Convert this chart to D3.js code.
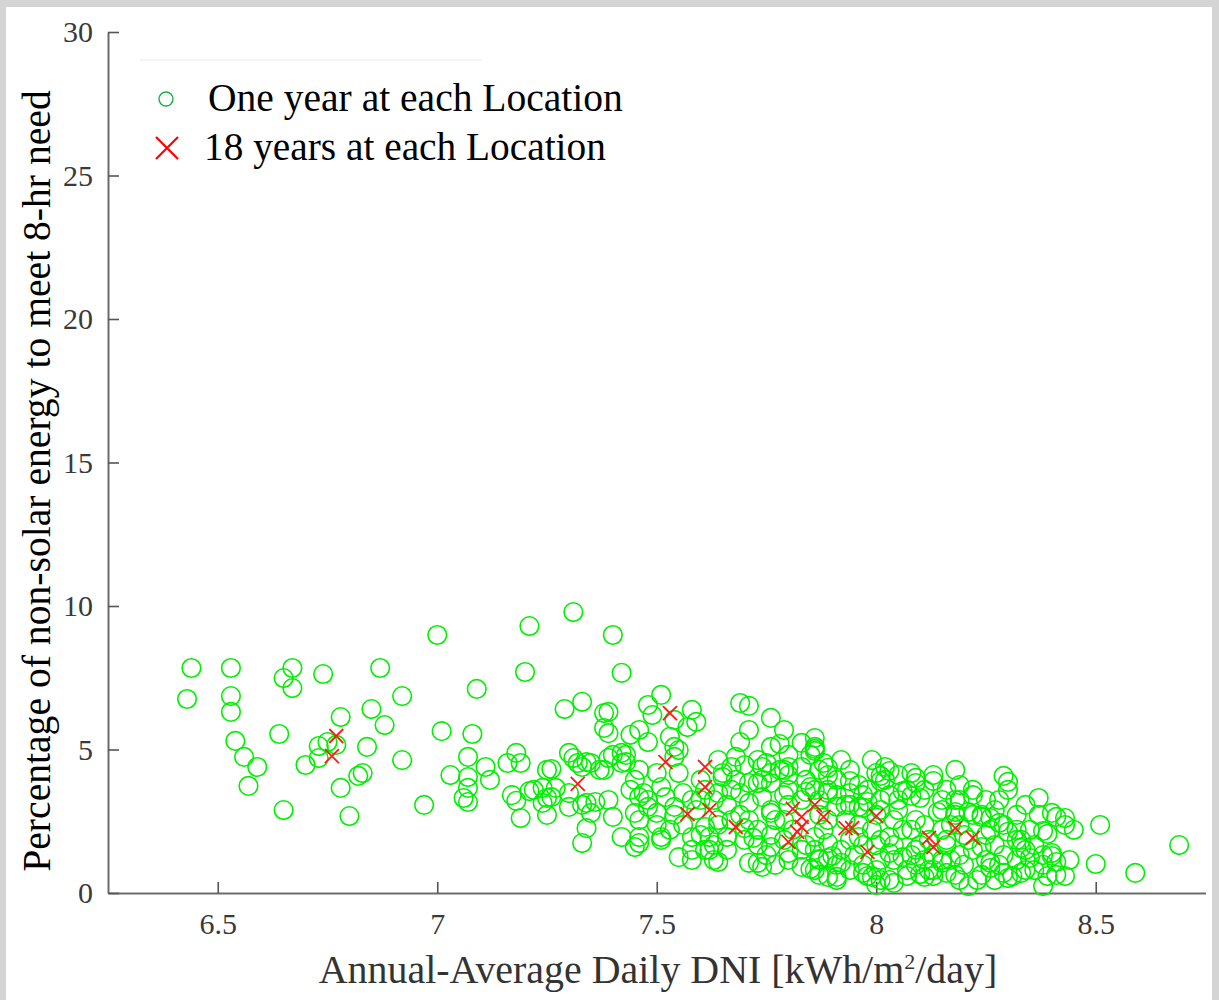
<!DOCTYPE html>
<html><head><meta charset="utf-8">
<script src="https://cdn.jsdelivr.net/npm/d3@7"></script>
<style>body{margin:0;background:#d4d4d4;} svg{display:block}</style>
</head><body><svg id="c" width="1219" height="1000"></svg>
<script>
const xTicks = [6.5, 7, 7.5, 8, 8.5];
const xTickLabels = ["6.5", "7", "7.5", "8", "8.5"];
const yTicks = [0, 5, 10, 15, 20, 25, 30];
const yTickLabels = ["0", "5", "10", "15", "20", "25", "30"];
const legendLabels = ["One year at each Location", "18 years at each Location"];
const yLabel = "Percentage of non-solar energy to meet 8-hr need";

// One year at each location: [DNI, percentage]
const oneYear = [
[6.44,7.84],[6.43,6.76],[6.53,7.84],[6.53,6.86],[6.53,6.31],[6.54,5.30],[6.56,4.74],[6.59,4.39],[6.57,3.73],
[6.67,7.84],[6.65,7.49],[6.67,7.14],[6.74,7.63],[6.64,5.54],[6.78,6.13],[6.85,6.41],[6.87,7.84],[6.92,6.86],
[6.88,5.85],[7.00,8.99],[7.09,7.11],[7.01,5.64],[7.08,5.54],[7.21,9.30],[7.20,7.70],[6.73,5.12],[6.75,5.26],
[6.77,5.16],[6.73,4.70],[6.70,4.46],[6.84,5.09],[6.92,4.63],[6.83,4.18],[6.82,4.08],[6.78,3.66],[6.80,2.68],
[6.65,2.89],[6.97,3.07],[7.03,4.11],[7.07,4.74],[7.07,4.04],[7.07,3.66],[7.06,3.31],[7.07,3.17],[7.11,4.39],
[7.12,3.94],[7.16,4.53],[7.18,4.88],[7.19,4.53],[7.17,3.41],[7.18,3.21],[7.19,2.61],[7.21,3.55],[7.24,3.66],
[7.25,3.31],[7.25,2.72],[7.25,4.29],[7.31,9.79],[7.40,8.99],[7.42,7.67],[7.29,6.41],[7.33,6.66],[7.38,6.27],
[7.39,6.31],[7.38,5.75],[7.39,5.57],[7.48,6.55],[7.49,6.20],[7.51,6.90],[7.58,6.38],[7.59,5.96],[7.57,5.78],
[7.44,5.51],[7.48,5.26],[7.53,5.44],[7.54,5.09],[7.69,6.62],[7.71,6.52],[7.76,6.10],[7.79,5.68],[7.71,5.68],
[7.69,5.26],[7.76,5.09],[7.83,5.23],[7.86,5.40],[7.86,5.09],[7.30,4.88],[7.26,4.32],[7.32,4.53],[7.34,4.56],
[7.35,4.53],[7.38,4.29],[7.42,4.88],[7.43,4.56],[7.39,4.70],[7.27,3.66],[7.30,3.48],[7.30,3.00],[7.34,3.14],
[7.36,3.17],[7.39,3.24],[7.34,2.26],[7.33,1.74],[7.40,2.65],[7.42,1.95],[7.45,3.94],[7.47,3.48],[7.45,2.79],
[7.46,1.95],[7.46,1.74],[7.51,1.85],[7.48,3.24],[7.51,3.69],[7.50,2.79],[7.55,4.18],[7.56,3.48],[7.55,1.25],
[7.58,1.15],[7.62,1.50],[7.64,1.08],[7.61,2.30],[7.64,2.54],[7.59,2.89],[7.67,4.39],[7.68,3.94],[7.65,4.04],
[7.69,3.48],[7.71,3.83],[7.74,4.39],[7.76,4.18],[7.79,4.29],[7.83,4.39],[7.87,4.29],[7.85,3.69],[7.89,3.48],
[7.71,1.05],[7.74,0.91],[7.83,0.91],[7.86,0.80],[7.91,0.56],[7.76,2.79],[7.79,2.54],[7.71,2.54],[7.89,2.54],
[7.78,5.19],[7.86,5.02],[7.68,4.74],[7.73,4.63],[7.75,4.53],[7.80,4.39],[7.78,4.29],[7.88,4.53],[7.89,4.36],
[7.94,4.29],[8.00,4.18],[8.02,4.39],[8.05,4.11],[8.08,4.18],[8.13,4.11],[7.65,4.18],[7.86,4.95],[7.89,4.11],
[7.94,3.90],[8.01,4.08],[8.03,4.25],[8.01,3.90],[8.09,4.01],[8.09,3.83],[8.13,3.90],[8.06,3.55],[8.08,3.38],
[8.10,3.31],[7.98,3.17],[7.97,2.96],[7.93,3.07],[8.14,2.82],[8.18,2.72],[8.22,2.72],[8.24,2.72],[8.26,2.61],
[8.29,2.37],[8.32,2.20],[8.32,1.85],[8.34,1.50],[8.37,3.31],[8.41,2.65],[8.43,2.61],[8.43,2.37],[8.39,2.06],
[8.51,2.37],[8.50,1.01],[8.59,0.70],[8.69,1.67],[8.40,1.29],[8.41,1.08],[8.43,0.59],[8.39,0.59],[8.38,0.24],
[8.33,0.70],[8.31,0.59],[8.29,0.70],[8.26,0.87],[8.23,0.45],[8.21,0.24],[8.19,0.45],[8.13,0.59],[8.10,0.66],
[8.07,0.59],[8.04,0.35],[8.01,0.45],[7.98,0.59],[7.91,0.45],[7.85,0.84],[7.87,1.18],[7.90,1.29],[7.61,1.50],
[7.63,1.15],[7.73,1.05],[7.89,0.56],[7.97,0.70],[7.99,0.56],[8.00,0.80],[8.03,0.45],[8.00,0.28],[8.11,0.56],
[8.12,0.80],[8.15,1.05],[8.07,3.59],[8.02,3.94],[7.94,3.48],[7.89,3.59],[7.86,3.59],[7.80,3.59],[7.76,3.83],
[7.73,3.83],[7.67,3.59],[7.64,3.48],[7.60,3.24],[7.71,3.14],[7.76,2.89],[7.77,2.54],[7.73,2.20],[7.70,1.85],
[7.76,1.60],[7.80,1.39],[7.86,1.95],[7.89,1.74],[7.92,1.50],[7.96,1.95],[7.99,2.20],[8.03,1.95],[8.06,2.20],
[8.09,2.54],[8.05,2.89],[8.01,3.24],[7.96,3.00],[7.91,3.00],[8.09,1.50],[8.06,1.25],[8.03,1.39],[7.92,1.05],
[7.87,1.15],[7.66,1.95],[7.62,1.95],[7.58,1.50],[7.22,3.59],[7.26,3.34],[7.24,3.14],[7.33,3.07],[7.35,2.79],
[7.45,1.60],[7.44,3.59],[7.46,3.34],[7.48,3.00],[7.46,2.54],[7.52,3.34],[7.54,3.00],[7.51,1.95],[7.58,1.95],
[7.33,4.39],[7.37,4.29],[7.42,4.53],[7.46,4.29],[7.50,4.18],[7.46,5.68],[7.54,6.03],[7.55,4.98],[7.54,4.74],
[7.31,4.70],[7.40,4.81],[7.43,4.81],[8.05,3.24],[8.11,2.37],[8.15,2.20],[8.16,1.67],[8.19,1.32],[8.20,0.98],
[8.22,1.50],[8.25,2.02],[8.27,1.67],[8.29,1.32],[8.28,3.24],[8.30,3.59],[8.16,3.59],[8.19,3.24],[8.22,3.41],
[8.29,4.08],[8.30,3.87],[8.16,0.70],[8.15,1.15],[8.24,1.60],[8.28,2.44],[8.30,2.13],[8.33,1.57],[8.36,0.80],
[8.30,0.52],[8.26,1.05],[8.24,2.65],[8.21,2.82],[8.18,2.82],[8.15,2.89],[8.40,2.79],[8.38,2.16],[8.38,1.32],
[8.40,1.39],[7.83,3.24],[7.87,2.72],[7.93,2.54],[7.96,2.37],[8.00,2.72],[7.81,2.20],[7.84,1.67],[7.88,2.20],
[7.95,1.32],[8.00,1.67],[8.12,1.85],[8.09,0.98],[7.73,1.67],[7.66,1.50],[7.64,2.37],[7.69,2.72],[7.80,3.07],
[7.74,3.34],[7.98,3.59],[8.03,3.41],[8.17,2.37],[8.20,2.02],[8.19,3.76],[8.18,4.29],
[7.79,3.41],[7.84,3.52],[7.87,3.24],[7.91,3.41],[7.94,3.07],[7.97,3.41],[8.01,2.89],[8.04,2.54],[8.08,2.20],
[8.10,1.67],[8.07,0.80],[8.04,1.15],[8.01,1.15],[7.97,0.98],[7.94,0.80],[7.91,0.98],[7.87,0.63],[7.80,1.15],
[7.77,0.98],[7.75,1.32],[7.76,2.02],[7.79,1.85],[7.83,1.50],[7.86,1.50],[7.89,1.22],[7.94,1.85],[7.97,1.67],
[8.01,1.85],[8.04,1.67],[8.08,1.32],[8.11,1.15],[8.13,0.80],[8.17,1.15],[8.18,0.63],[8.24,0.63],[8.27,0.45],
[8.25,1.15],[8.28,0.98],[8.32,1.15],[8.34,0.80],[8.35,1.22],[8.33,1.85],[8.35,2.20],[8.26,2.20],[8.21,1.85],
[8.19,2.37],[8.16,1.85],[8.13,1.32],[8.18,3.24],[8.15,3.24],[8.11,3.59],[8.22,3.59],[8.25,3.24],[8.27,2.89],
[8.32,2.72],[8.34,3.07],[8.37,2.72],[8.36,1.67],[8.38,0.98],[8.41,0.63],[8.44,1.15],[8.45,2.20],
[7.60,3.94],[7.63,3.24],[7.66,3.07],[7.67,2.54],[7.70,2.26],[7.72,1.92],[7.63,1.67],[7.60,2.02],[7.56,2.37],
[7.54,2.72],[7.53,2.20],[7.50,2.37],[7.58,3.24],[7.61,3.59],[7.64,4.63],[7.70,4.46],[7.74,3.94],[7.80,4.11],
[7.84,3.94],[7.91,3.94],[7.96,3.76],[7.99,4.63],[7.92,4.63],[7.85,4.81],[7.80,4.81]
];

// 18 years at each location: [DNI, percentage]
const eighteenYears = [
[6.77,5.47],[6.76,4.77],[7.53,6.27],[7.52,4.56],[7.32,3.80],[7.61,4.39],[7.61,3.69],[7.57,2.75],[7.62,2.89],
[7.68,2.30],[7.81,2.93],[7.83,2.65],[7.83,2.30],[7.82,2.13],[7.80,1.78],[7.86,3.07],[7.88,2.65],[7.93,2.26],
[7.945,2.26],[8.00,2.68],[7.98,1.43],[8.12,1.92],[8.13,1.60],[8.18,2.26],[8.22,1.92]
];

const svg = d3.select("#c");
svg.append("rect").attr("width",1219).attr("height",1000).attr("fill","#d4d4d4");
svg.append("rect").attr("x",6).attr("y",7).attr("width",1206).attr("height",993).attr("fill","#fff");

const x = d3.scaleLinear().domain([6.25, 8.75]).range([108, 1205.5]);
const y = d3.scaleLinear().domain([0, 30]).range([893, 32]);

const tickFont = "'Liberation Serif', 'DejaVu Serif', serif";

const gx = svg.append("g").attr("transform","translate(0,893)")
  .call(d3.axisBottom(x).tickValues(xTicks).tickFormat((d,i)=>xTickLabels[i]).tickSizeInner(-11).tickSizeOuter(0).tickPadding(20));
const gy = svg.append("g").attr("transform","translate(108,0)")
  .call(d3.axisLeft(y).tickValues(yTicks).tickFormat((d,i)=>yTickLabels[i]).tickSizeInner(-11).tickSizeOuter(0).tickPadding(15));
[gx, gy].forEach(g => {
  g.select(".domain").attr("stroke","#6b6b6b").attr("stroke-width",2);
  g.selectAll(".tick line").attr("stroke","#555").attr("stroke-width",1.6);
  g.selectAll(".tick text").attr("fill","#3a3a3a").style("font-family",tickFont).style("font-size","30px");
});

// points
svg.append("g").selectAll("circle").data(oneYear).join("circle")
  .attr("cx", d => x(d[0])).attr("cy", d => y(d[1])).attr("r", 9.3)
  .attr("fill","none").attr("stroke","#00f000").attr("stroke-width",1.6);

const xm = 7;
svg.append("g").selectAll("path").data(eighteenYears).join("path")
  .attr("transform", d => `translate(${x(d[0])},${y(d[1])})`)
  .attr("d", `M${-xm},${-xm}L${xm},${xm}M${-xm},${xm}L${xm},${-xm}`)
  .attr("stroke","#ff1a1a").attr("stroke-width",1.8).attr("fill","none");

// legend
const lg = svg.append("g");
lg.append("line").attr("x1",140).attr("x2",482).attr("y1",60).attr("y2",60).attr("stroke","#f0f0f0").attr("stroke-width",1.5);
lg.append("circle").attr("cx",166).attr("cy",99).attr("r",7).attr("fill","none").attr("stroke","#16b04a").attr("stroke-width",1.4);
lg.append("path").attr("transform","translate(167,148)").attr("d","M-11,-11L11,11M-11,11L11,-11")
  .attr("stroke","#ff0000").attr("stroke-width",2.2).attr("fill","none");
const legFont = "'Liberation Serif', 'Times New Roman', serif";
function fitText(t, target) {
  const w = t.node().getComputedTextLength();
  const fs = parseFloat(t.style("font-size"));
  t.style("font-size", (fs * target / w) + "px");
}
const lt1 = lg.append("text").attr("x",208).attr("y",111).text(legendLabels[0])
  .style("font-family",legFont).style("font-size","35px").attr("fill","#000");
fitText(lt1, 415);
const lt2 = lg.append("text").attr("x",204).attr("y",160).text(legendLabels[1])
  .style("font-family",legFont).style("font-size","35px").attr("fill","#000");
fitText(lt2, 402);

// y label
const yl = svg.append("text").attr("transform","translate(50,481) rotate(-90)").attr("text-anchor","middle")
  .style("font-family",legFont).style("font-size","35px").attr("fill","#000").text(yLabel);
fitText(yl, 782);

// x label
const xl = svg.append("text").attr("x",658).attr("y",983).attr("text-anchor","middle")
  .style("font-family",tickFont).style("font-size","36px").attr("fill","#333");
xl.append("tspan").text("Annual-Average Daily DNI [kWh/m");
xl.append("tspan").attr("dy",-14).style("font-size","22px").text("2");
xl.append("tspan").attr("dy",14).text("/day]");
fitText(xl, 680);
</script></body></html>
